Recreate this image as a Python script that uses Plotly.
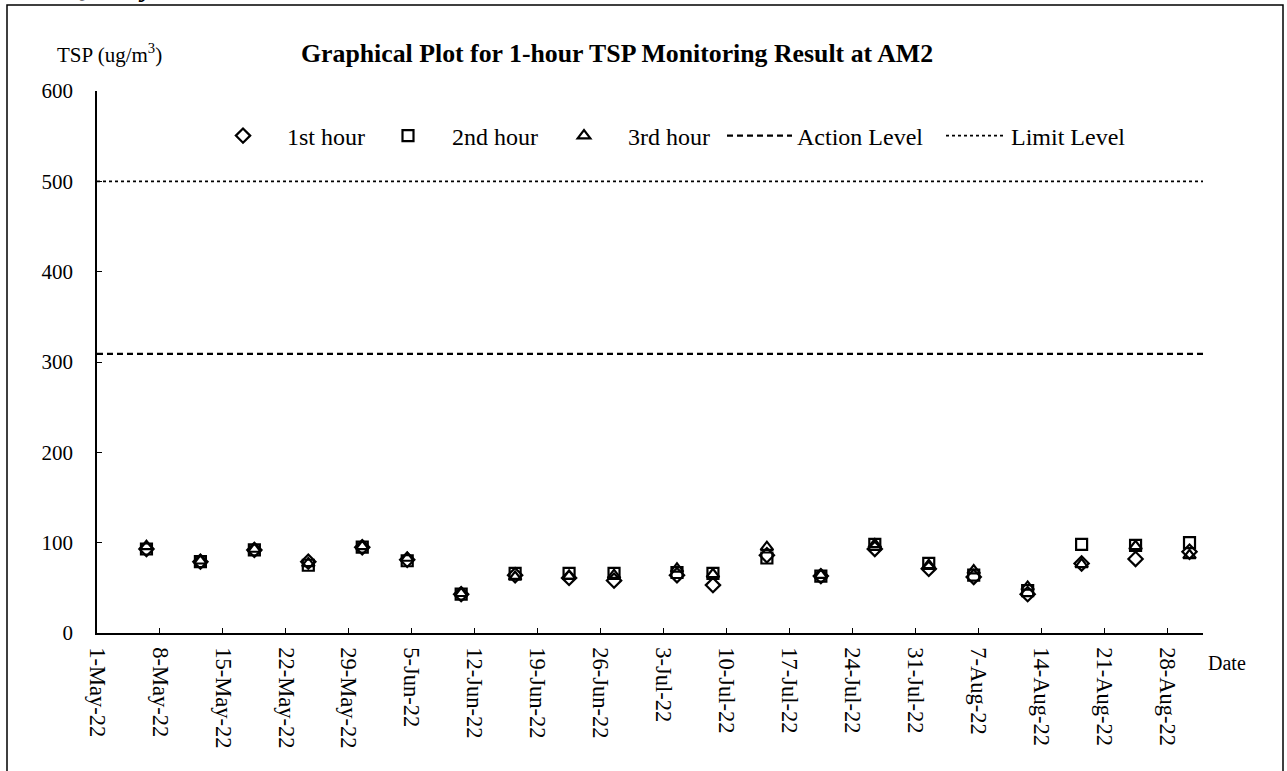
import plotly.graph_objects as go
import pandas as pd

# ---- data ----
dates = ["2022-05-06", "2022-05-12", "2022-05-18", "2022-05-24", "2022-05-30",
         "2022-06-04", "2022-06-10", "2022-06-16", "2022-06-22", "2022-06-27",
         "2022-07-04", "2022-07-08", "2022-07-14", "2022-07-20", "2022-07-26",
         "2022-08-01", "2022-08-06", "2022-08-12", "2022-08-18", "2022-08-24",
         "2022-08-30"]
hour1 = [93, 79, 92, 79, 95, 81, 43, 64, 61, 58, 64, 53, 86, 63, 93, 71, 62, 43, 77, 82, 90]
hour2 = [93, 79, 92, 75, 95, 80, 43, 66, 66, 66, 67, 66, 83, 63, 98, 77, 64, 47, 98, 97, 100]
hour3 = [96, 80, 93, 77, 96, 83, 44, 62, 63, 64, 71, 65, 95, 64, 98, 75, 69, 51, 76, 96, 86]
action_level = 309
limit_level = 500
x_start, x_end = "2022-05-01", "2022-09-01"
series_names = ["1st hour", "2nd hour", "3rd hour"]

W, H = 1287, 771
L, R, T, B = 97, 84, 91, 138
PW, PH = W - L - R, H - T - B


def px(x):
    return (x - L) / PW


def py(y):
    return (H - B - y) / PH


FONT = "Liberation Serif, Times New Roman, serif"
xd = pd.to_datetime(dates) + pd.Timedelta(hours=12)  # centre each day slot

fig = go.Figure()
symbols = ["diamond-open", "square-open", "triangle-up-open"]
legends = ["legend", "legend2", "legend3"]
for name, vals, sym, lg in zip(series_names, [hour1, hour2, hour3], symbols, legends):
    fig.add_trace(go.Scatter(
        x=xd, y=vals, mode="markers", name=name, legend=lg, showlegend=True,
        marker=dict(symbol=sym, size=11, color="black", line=dict(width=2.2, color="black")),
    ))

fig.add_trace(go.Scatter(x=[x_start, x_end], y=[action_level, action_level], mode="lines",
                         name="Action Level", legend="legend4",
                         line=dict(color="black", width=2.2, dash="6px,4px")))
fig.add_trace(go.Scatter(x=[x_start, x_end], y=[limit_level, limit_level], mode="lines",
                         name="Limit Level", legend="legend5",
                         line=dict(color="black", width=1.6, dash="dot")))

leg_common = dict(orientation="h", yanchor="middle", y=py(136), xanchor="left",
                  bgcolor="rgba(0,0,0,0)", font=dict(family=FONT, size=24, color="black"),
                  borderwidth=0)
fig.update_layout(
    showlegend=True,
    legend=dict(leg_common, x=px(199), itemwidth=78),
    legend2=dict(leg_common, x=px(364), itemwidth=78),
    legend3=dict(leg_common, x=px(540), itemwidth=78),
    legend4=dict(leg_common, x=px(722), itemwidth=65),
    legend5=dict(leg_common, x=px(941), itemwidth=60),
)

fig.update_xaxes(
    type="date", range=[x_start, x_end], tick0=x_start, dtick=7 * 86400000,
    tickformat="%-d-%b-%y", tickangle=90, ticks="inside", ticklen=5, tickcolor="black",
    showline=True, linecolor="black", linewidth=1.5, showgrid=False, zeroline=False,
    tickfont=dict(family=FONT, size=22.5, color="black"), ticklabelstandoff=8,
)
fig.update_yaxes(
    range=[0, 600], dtick=100, ticks="inside", ticklen=5, tickcolor="black",
    showline=True, linecolor="black", linewidth=1.5, showgrid=False, zeroline=False,
    tickfont=dict(family=FONT, size=21, color="black"), ticklabelstandoff=18,
)

annotations = [
    dict(text="<b>Graphical Plot for 1-hour TSP Monitoring Result at AM2</b>",
         x=px(617), y=py(53), xanchor="center", yanchor="middle",
         font=dict(family=FONT, size=25.8, color="black")),
    dict(text="TSP (ug/m<sup>3</sup>)", x=px(55), y=py(53), xanchor="left", yanchor="middle",
         font=dict(family=FONT, size=21, color="black")),
    dict(text="Date", x=px(1227), y=py(663), xanchor="center", yanchor="middle",
         font=dict(family=FONT, size=20, color="black")),
    dict(text="<b><i>Air Quality</i></b>", x=px(20), y=py(4), xanchor="left", yanchor="bottom",
         font=dict(family=FONT, size=28, color="black")),
]
for a in annotations:
    a.update(xref="paper", yref="paper", showarrow=False)

fig.update_layout(
    width=W, height=H, margin=dict(l=L, r=R, t=T, b=B),
    paper_bgcolor="white", plot_bgcolor="white",
    annotations=annotations,
    shapes=[dict(type="rect", xref="paper", yref="paper",
                 x0=px(7), x1=px(1283), y0=py(790), y1=py(5),
                 line=dict(color="black", width=1.5), fillcolor="rgba(0,0,0,0)", layer="below")],
)

fig.write_html("out.html", config={"displayModeBar": False},
               post_script="document.body.style.margin='0';document.body.style.overflow='hidden';")
